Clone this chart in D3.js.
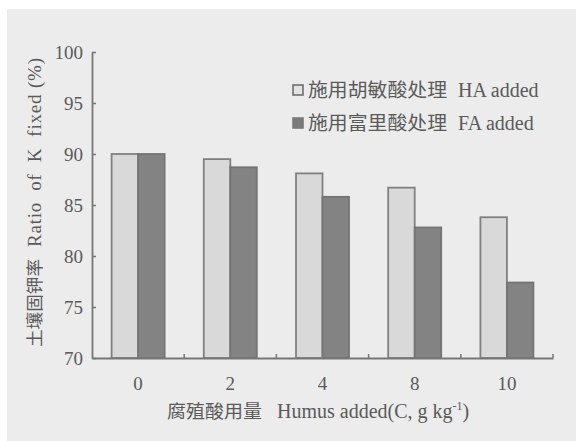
<!DOCTYPE html>
<html><head><meta charset="utf-8">
<script src="https://cdn.jsdelivr.net/npm/d3@7"></script>
<style>body{margin:0;background:#fff}svg{display:block}.ax text{font-family:"Liberation Serif","DejaVu Serif",serif !important;font-size:19px}</style>
</head><body>
<script>
const categories = ["0","2","4","8","10"];
const haValues = [90.0, 89.5, 88.1, 86.7, 83.8];
const faValues = [90.0, 88.7, 85.8, 82.8, 77.4];
const seriesZh = ["施用胡敏酸处理", "施用富里酸处理"];
const seriesEn = ["HA added", "FA added"];
const yTicks = [70,75,80,85,90,95,100];

(function(){
const W=576,H=441;
const svg=d3.select("body").append("svg").attr("width",W).attr("height",H);
svg.append("rect").attr("x",0).attr("y",0).attr("width",W).attr("height",H).attr("fill","#fff");
svg.append("rect").attr("x",7).attr("y",9).attr("width",W-7).attr("height",H-9).attr("fill","#ececec");

const mLeft=92,mRight=553,mTop=52,mBottom=358;
const x=d3.scaleBand().domain(categories).range([mLeft,mRight]).paddingInner(0).paddingOuter(0);
const y=d3.scaleLinear().domain([70,100]).range([mBottom,mTop]);
const bw=26.5;
const axisCol="#767676";
const txtCol="#5a5a5a";
const serif="'Liberation Serif','DejaVu Serif',serif";
const cjk="'Noto Sans CJK SC',sans-serif";

const data=categories.map((c,i)=>({c,ha:haValues[i],fa:faValues[i]}));
const g=svg.append("g");
g.selectAll("rect.ha").data(data).enter().append("rect")
 .attr("x",d=>x(d.c)+x.bandwidth()/2-bw).attr("y",d=>y(d.ha))
 .attr("width",bw).attr("height",d=>mBottom-y(d.ha))
 .attr("fill","#d9d9d9").attr("stroke","#808080").attr("stroke-width",1.8);
g.selectAll("rect.fa").data(data).enter().append("rect")
 .attr("x",d=>x(d.c)+x.bandwidth()/2).attr("y",d=>y(d.fa))
 .attr("width",bw).attr("height",d=>mBottom-y(d.fa))
 .attr("fill","#838383").attr("stroke","#747474").attr("stroke-width",1.8);

const ya=svg.append("g").attr("class","ax").attr("transform",`translate(${mLeft},0)`)
 .call(d3.axisLeft(y).tickValues(yTicks).tickSize(-4).tickPadding(9).tickSizeOuter(0))
 .attr("font-family",serif).attr("font-size",19);
ya.select(".domain").attr("stroke",axisCol).attr("stroke-width",1.8);
ya.selectAll(".tick line").attr("stroke",axisCol).attr("stroke-width",1.5);
ya.selectAll(".tick text").attr("fill",txtCol);

const xa=svg.append("g").attr("class","ax").attr("transform",`translate(0,${mBottom})`)
 .call(d3.axisBottom(x).tickSize(0).tickPadding(19))
 .attr("font-family",serif).attr("font-size",19);
xa.select(".domain").attr("stroke",axisCol).attr("stroke-width",1.8);
xa.selectAll(".tick text").attr("fill",txtCol);
const bounds=categories.slice(1).map(c=>x(c)).concat([mRight]);
svg.selectAll("line.bt").data(bounds).enter().append("line")
 .attr("x1",d=>d).attr("x2",d=>d).attr("y1",mBottom).attr("y2",mBottom-4)
 .attr("stroke",axisCol).attr("stroke-width",1.5);

// x title
svg.append("text").attr("x",167).attr("y",418).attr("fill",txtCol)
 .style("font-family",cjk).style("font-size","18px").attr("textLength",95).attr("lengthAdjust","spacingAndGlyphs").text("腐殖酸用量");
const xt=svg.append("text").attr("x",277).attr("y",418).attr("fill",txtCol).style("font-family",serif).style("font-size","20px");
xt.append("tspan").text("Humus added(C, g kg");
xt.append("tspan").style("font-size","12px").attr("dy",-8).text("-1");
xt.append("tspan").attr("dy",8).text(")");

// y title
svg.append("text").attr("transform","translate(41,347) rotate(-90)").attr("fill",txtCol)
 .style("font-family",cjk).style("font-size","17px").attr("textLength",88).attr("lengthAdjust","spacingAndGlyphs").text("土壤固钾率");
svg.append("text").attr("transform","translate(41,247) rotate(-90)").attr("fill",txtCol)
 .style("font-family",serif).style("font-size","19px").attr("textLength",189).attr("lengthAdjust","spacing").attr("xml:space","preserve").text("Ratio  of  K  fixed (%)");

// legend
const leg=[{zh:seriesZh[0],en:seriesEn[0],f:"#e2e2e2",s:"#707070"},{zh:seriesZh[1],en:seriesEn[1],f:"#7a7a7a",s:"#7a7a7a"}];
const lg=svg.selectAll("g.lg").data(leg).enter().append("g").attr("transform",(d,i)=>`translate(0,${i*33})`);
lg.append("rect").attr("x",293).attr("y",85).attr("width",10).attr("height",10).attr("fill",d=>d.f).attr("stroke",d=>d.s).attr("stroke-width",1.6);
lg.append("text").attr("x",308).attr("y",97).attr("fill",txtCol).style("font-family",cjk).style("font-size","19px")
 .attr("textLength",139).attr("lengthAdjust","spacingAndGlyphs").text(d=>d.zh);
lg.append("text").attr("x",458).attr("y",97).attr("fill",txtCol).style("font-family",serif).style("font-size","20px").text(d=>d.en);
})();
</script>
</body></html>
